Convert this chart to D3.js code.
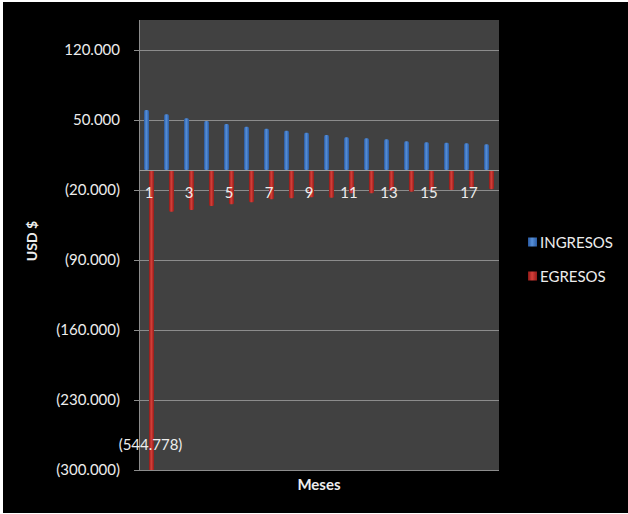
<!DOCTYPE html>
<html>
<head>
<meta charset="utf-8">
<script src="https://cdn.jsdelivr.net/npm/d3@7"></script>
<style>
  html, body { margin: 0; padding: 0; background: #fff; }
  svg { display: block; }
  text { font-family: Lato, "Open Sans", sans-serif; fill: #ededed; }
</style>
</head>
<body>
<svg id="chart" width="628" height="514"></svg>
<script>
// meses 1..18
var months = d3.range(1, 19);
var seriesNames = ["INGRESOS", "EGRESOS"];
var ingresos = [60000, 55700, 51700, 49000, 46000, 43300, 41300, 39300, 37300,
                35000, 32700, 31700, 30700, 28700, 27700, 27300, 26700, 25700];
var egresos = [-544778, -41700, -40000, -36000, -34300, -32300, -29300, -28300, -27300,
               -27700, -23300, -23300, -20700, -21700, -20000, -20000, -18300, -19300];
var yTicks = [120000, 50000, -20000, -90000, -160000, -230000, -300000];
var xLabels = [1, 3, 5, 7, 9, 11, 13, 15, 17];

var svg = d3.select("#chart");
var W = 628, H = 514;
// plot box (note: "top" is reserved on window, so pT/pB)
var pL = 139, pR = 499, pT = 20, pB = 470;

// black frame with thin white edge like the screenshot
svg.append("rect").attr("x", 3).attr("y", 2).attr("width", W - 3).attr("height", H - 3).attr("fill", "#000");

var defs = svg.append("defs");
function grad(id, stops) {
  var g = defs.append("linearGradient").attr("id", id)
    .attr("x1", "0%").attr("x2", "100%").attr("y1", "0%").attr("y2", "0%");
  stops.forEach(function(s) { g.append("stop").attr("offset", s[0]).attr("stop-color", s[1]); });
}
grad("gBlue", [["0%", "#28579e"], ["45%", "#5790d8"], ["100%", "#2a5ba3"]]);
grad("gRed", [["0%", "#8c1816"], ["45%", "#d4403a"], ["100%", "#951c19"]]);
defs.append("clipPath").attr("id", "plotClip")
  .append("rect").attr("x", pL).attr("y", pT).attr("width", pR - pL).attr("height", pB - pT);

var x0 = d3.scaleBand().domain(months).range([pL, pR]).paddingInner(0.5).paddingOuter(0.25);
var x1 = d3.scaleBand().domain(seriesNames).range([0, x0.bandwidth()]);
var y = d3.scaleLinear().domain([-300000, 150000]).range([pB, pT]);

// plot area
svg.append("rect").attr("x", pL).attr("y", pT).attr("width", pR - pL).attr("height", pB - pT)
  .attr("fill", "#414141");

// grid lines
svg.append("g").selectAll("line").data(yTicks).enter().append("line")
  .attr("x1", pL - 5).attr("x2", pR)
  .attr("y1", function(d) { return y(d) + 0.5; }).attr("y2", function(d) { return y(d) + 0.5; })
  .attr("stroke", "#8c8c8c").attr("stroke-width", 1);

// vertical axis line
svg.append("line").attr("x1", pL + 0.5).attr("x2", pL + 0.5).attr("y1", pT).attr("y2", pB)
  .attr("stroke", "#8c8c8c");

// y tick labels
var fmt = function(d) {
  var s = d3.format(",")(Math.abs(d)).replace(/,/g, ".");
  return d < 0 ? "(" + s + ")" : s;
};
svg.append("g").selectAll("text").data(yTicks).enter().append("text")
  .attr("x", 120).attr("y", function(d) { return y(d) + 5; })
  .attr("text-anchor", "end").attr("font-size", "15px")
  .text(fmt);

// bars
var bars = svg.append("g").attr("clip-path", "url(#plotClip)");
var rows = months.map(function(m, i) {
  return [{m: m, s: "INGRESOS", v: ingresos[i]}, {m: m, s: "EGRESOS", v: egresos[i]}];
});
bars.selectAll("g").data(rows).enter().append("g")
  .selectAll("rect").data(function(d) { return d; }).enter().append("rect")
  .attr("x", function(d) { return x0(d.m) + x1(d.s); })
  .attr("width", x1.bandwidth())
  .attr("y", function(d) { return y(Math.max(0, d.v)); })
  .attr("height", function(d) { return Math.abs(y(d.v) - y(0)); })
  .attr("rx", 1.5)
  .attr("fill", function(d) { return d.s === "INGRESOS" ? "url(#gBlue)" : "url(#gRed)"; });

// zero axis line
svg.append("line").attr("x1", pL).attr("x2", pR).attr("y1", y(0) + 0.5).attr("y2", y(0) + 0.5)
  .attr("stroke", "#9a9a9a");

// category labels
svg.append("g").selectAll("text").data(xLabels).enter().append("text")
  .attr("x", function(d) { return x0(d) + x0.bandwidth() / 2; })
  .attr("y", y(0) + 28)
  .attr("text-anchor", "middle").attr("font-size", "15px")
  .text(function(d) { return d; });

// data label for the off-scale bar
svg.append("text")
  .attr("x", x0(1) + x1("EGRESOS") + x1.bandwidth() / 2 - 1)
  .attr("y", 450)
  .attr("text-anchor", "middle").attr("font-size", "15px")
  .text(fmt(egresos[0]));

// axis titles
svg.append("text").attr("transform", "translate(37,241) rotate(-90)")
  .attr("text-anchor", "middle").attr("font-size", "14px").attr("font-weight", "bold")
  .text("USD $");
svg.append("text").attr("x", (pL + pR) / 2).attr("y", 490)
  .attr("text-anchor", "middle").attr("font-size", "15px").attr("font-weight", "bold")
  .text("Meses");

// legend
var legend = svg.append("g").selectAll("g").data(seriesNames).enter().append("g")
  .attr("transform", function(d, i) { return "translate(528," + (242 + i * 34) + ")"; });
legend.append("rect").attr("x", 0).attr("y", -4.5).attr("width", 9).attr("height", 9)
  .attr("fill", function(d) { return d === "INGRESOS" ? "url(#gBlue)" : "url(#gRed)"; });
legend.append("text").attr("x", 12).attr("y", 5.5).attr("font-size", "15px")
  .text(function(d) { return d; });
</script>
</body>
</html>
